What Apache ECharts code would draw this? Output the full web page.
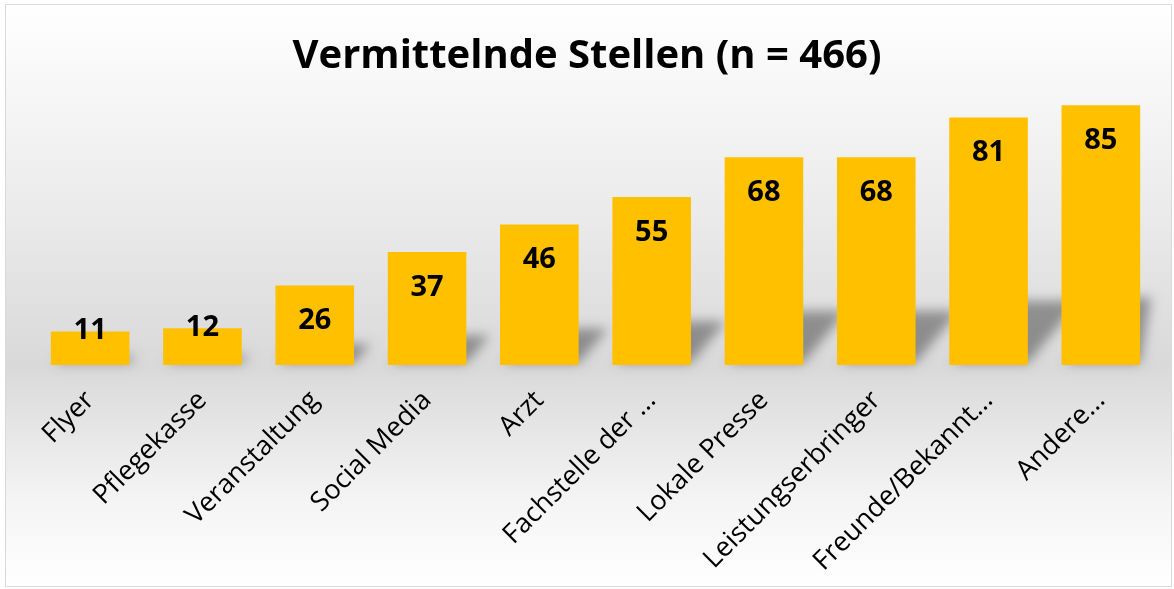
<!DOCTYPE html>
<html>
<head>
<meta charset="utf-8">
<script src="https://cdn.jsdelivr.net/npm/echarts@6/dist/echarts.min.js"></script>
<style>
  html, body { margin: 0; padding: 0; background: #fff; }
  #main { width: 1174px; height: 589px; }
</style>
</head>
<body>
<div id="main"></div>
<script>
var myChart = echarts.init(document.getElementById('main'));

// Daten
var categories = ['Flyer', 'Pflegekasse', 'Veranstaltung', 'Social Media', 'Arzt',
    'Fachstelle der ...', 'Lokale Presse', 'Leistungserbringer', 'Freunde/Bekannt...', 'Andere...'];
var values = [11, 12, 26, 37, 46, 55, 68, 68, 81, 85];

var fontName = '"Open Sans", "Noto Sans", sans-serif';
var barColor = '#FFC000';
var SHIFT = 3000; // Form ausserhalb zeichnen, nur der weiche Schatten bleibt sichtbar

var option = {
    backgroundColor: '#fff',
    animation: false,
    // Hintergrund mit Verlauf + Rahmen
    graphic: [{
        type: 'rect',
        z: -10,
        shape: { x: 5.5, y: 4.5, width: 1166, height: 582 },
        style: {
            fill: new echarts.graphic.LinearGradient(0, 0, 0, 1, [
                { offset: 0, color: '#ffffff' },
                { offset: 0.35, color: '#ebebeb' },
                { offset: 0.62, color: '#d9d9d9' },
                { offset: 0.85, color: '#f4f4f4' },
                { offset: 1, color: '#ffffff' }
            ]),
            stroke: '#d9d9d9',
            lineWidth: 1
        }
    }],
    title: {
        text: 'Vermittelnde Stellen (n = 466)',
        left: 'center',
        top: 32,
        textStyle: {
            fontFamily: fontName,
            fontSize: 40,
            fontWeight: 'bold',
            color: '#000'
        }
    },
    grid: {
        left: 34,
        right: 17,
        top: 90,
        bottom: 224
    },
    xAxis: {
        type: 'category',
        data: categories,
        axisLine: { show: false },
        axisTick: { show: false },
        axisLabel: {
            interval: 0,
            rotate: 45,
            margin: 31,
            fontFamily: fontName,
            fontSize: 27,
            color: '#000'
        }
    },
    yAxis: {
        type: 'value',
        min: 0,
        max: 90,
        show: false,
        splitLine: { show: false }
    },
    series: [{
        // perspektivischer Schatten hinter den Balken
        type: 'custom',
        z: 1,
        silent: true,
        data: values,
        renderItem: function (params, api) {
            var base = api.coord([api.value(0), 0]);
            var top = api.coord([api.value(0), api.value(1)]);
            var w = api.size([1, 0])[0] * 0.7;
            var limit = params.coordSys.x + params.coordSys.width - 6 - SHIFT;
            var left = base[0] - w / 2 - SHIFT;
            var h = (base[1] - top[1]) * 0.26;
            var dx = h * 0.8;
            return {
                type: 'polygon',
                shape: {
                    points: [
                        [left + 4, base[1] - 2],
                        [left + w, base[1] - 2],
                        [Math.min(left + w + dx, limit), base[1] - h],
                        [left + 4 + dx, base[1] - h]
                    ]
                },
                style: {
                    fill: '#000',
                    shadowBlur: 12,
                    shadowOffsetX: SHIFT,
                    shadowColor: 'rgba(0,0,0,0.36)'
                }
            };
        }
    }, {
        type: 'bar',
        z: 2,
        data: values.map(function (v) {
            var item = { value: v };
            if (v < 20) {
                item.label = { position: 'top', distance: -14 };
            }
            return item;
        }),
        barCategoryGap: '30%',
        itemStyle: { color: barColor },
        label: {
            show: true,
            position: 'insideTop',
            distance: 21,
            fontFamily: fontName,
            fontSize: 29,
            fontWeight: 'bold',
            color: '#000'
        }
    }]
};

myChart.setOption(option);
</script>
</body>
</html>
